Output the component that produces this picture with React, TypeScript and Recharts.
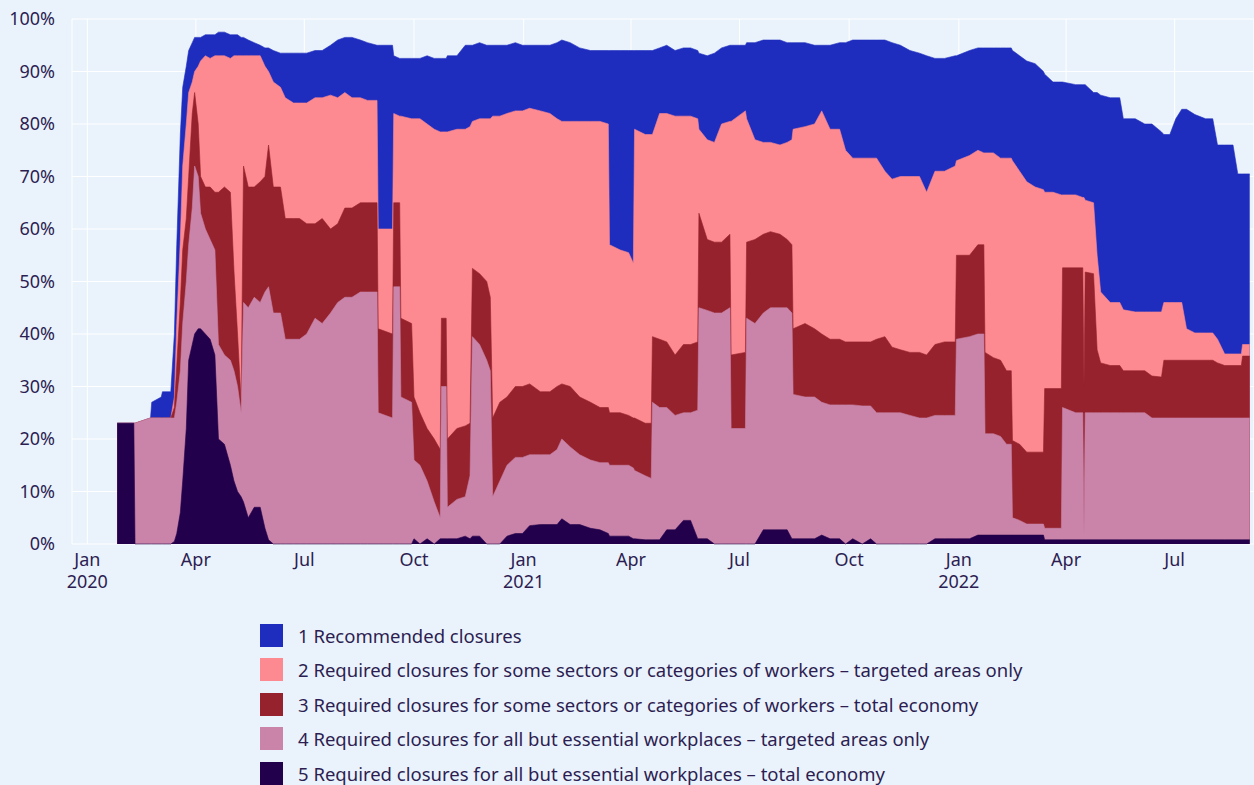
import React from 'react';
import { AreaChart, Area, XAxis, YAxis, CartesianGrid } from 'recharts';

// share of countries (%) at or above each workplace-closure level
const dates = [
  '2020-01-26', '2020-02-09', '2020-02-10', '2020-02-23', '2020-02-24', '2020-03-03', '2020-03-04', '2020-03-11',
  '2020-03-14', '2020-03-16', '2020-03-19', '2020-03-21', '2020-03-24', '2020-03-26', '2020-03-29', '2020-03-31',
  '2020-04-03', '2020-04-05', '2020-04-09', '2020-04-13', '2020-04-17', '2020-04-20', '2020-04-25', '2020-04-30',
  '2020-05-03', '2020-05-06', '2020-05-09', '2020-05-11', '2020-05-15', '2020-05-20', '2020-05-25', '2020-05-29',
  '2020-06-01', '2020-06-05', '2020-06-11', '2020-06-15', '2020-06-22', '2020-06-27', '2020-07-03', '2020-07-10',
  '2020-07-16', '2020-07-23', '2020-07-29', '2020-08-04', '2020-08-10', '2020-08-17', '2020-08-23', '2020-08-31',
  '2020-09-01', '2020-09-13', '2020-09-14', '2020-09-19', '2020-09-20', '2020-09-29', '2020-10-01', '2020-10-06',
  '2020-10-12', '2020-10-18', '2020-10-23', '2020-10-24', '2020-10-28', '2020-10-29', '2020-11-06', '2020-11-13',
  '2020-11-17', '2020-11-19', '2020-11-25', '2020-12-01', '2020-12-04', '2020-12-06', '2020-12-12', '2020-12-18',
  '2020-12-25', '2020-12-31', '2021-01-06', '2021-01-15', '2021-01-23', '2021-01-29', '2021-02-02', '2021-02-09',
  '2021-02-17', '2021-02-26', '2021-03-06', '2021-03-13', '2021-03-14', '2021-03-23', '2021-03-30', '2021-04-03',
  '2021-04-04', '2021-04-13', '2021-04-18', '2021-04-19', '2021-04-25', '2021-05-01', '2021-05-08', '2021-05-15',
  '2021-05-21', '2021-05-27', '2021-05-28', '2021-06-04', '2021-06-10', '2021-06-16', '2021-06-23', '2021-06-24',
  '2021-07-06', '2021-07-07', '2021-07-14', '2021-07-21', '2021-07-27', '2021-08-04', '2021-08-10', '2021-08-14',
  '2021-08-15', '2021-08-25', '2021-09-02', '2021-09-08', '2021-09-15', '2021-09-23', '2021-09-28', '2021-10-04',
  '2021-10-12', '2021-10-19', '2021-10-24', '2021-10-31', '2021-11-06', '2021-11-13', '2021-11-21', '2021-11-29',
  '2021-12-05', '2021-12-12', '2021-12-20', '2021-12-29', '2021-12-30', '2022-01-10', '2022-01-17', '2022-01-22',
  '2022-01-23', '2022-01-30', '2022-02-05', '2022-02-10', '2022-02-14', '2022-02-15', '2022-02-21', '2022-02-27',
  '2022-03-06', '2022-03-13', '2022-03-14', '2022-03-21', '2022-03-28', '2022-03-29', '2022-04-09', '2022-04-15',
  '2022-04-16', '2022-04-17', '2022-04-24', '2022-04-27', '2022-04-30', '2022-05-08', '2022-05-16', '2022-05-19',
  '2022-05-29', '2022-06-06', '2022-06-12', '2022-06-20', '2022-06-22', '2022-06-27', '2022-07-02', '2022-07-07',
  '2022-07-11', '2022-07-18', '2022-07-27', '2022-08-02', '2022-08-06', '2022-08-12', '2022-08-19', '2022-08-23',
  '2022-08-26', '2022-08-27', '2022-09-02',
];

// level 1 or higher (top of the blue band)
const atLeastLevel1 = [
  23, 23, 23, 24, 27, 28, 29, 29,
  40, 57, 78, 87, 91, 94, 95.5, 96.5,
  96.5, 96.5, 97, 97, 97, 97.5, 97.5, 97,
  97, 97, 96.5, 96.5, 96, 95.5, 95, 94.5,
  94.5, 94, 93.5, 93.5, 93.5, 93.5, 93.5, 94,
  94, 95, 96, 96.5, 96.5, 96, 95.5, 95,
  95, 95, 93, 92.5, 92.5, 92.5, 92.5, 92.5,
  93, 92.5, 92.5, 92.5, 92.5, 93, 93, 95,
  95, 95, 95.5, 95, 95, 95, 95, 95,
  95.5, 95, 95, 95, 95, 95.5, 96, 95.5,
  94.5, 94, 94, 94, 94, 94, 94, 94,
  94, 94, 94, 94, 94.5, 95, 94, 94.5,
  94.5, 94, 93.5, 93, 93.5, 94.5, 95, 95,
  95, 95.5, 95.5, 96, 96, 96, 95.5, 95.5,
  95.5, 95.5, 95, 95, 95, 95.5, 95.5, 96,
  96, 96, 96, 96, 95.5, 95, 94, 93.5,
  93, 92.5, 92.5, 93, 93, 94, 94.5, 94.5,
  94.5, 94.5, 94.5, 94.5, 94.5, 94, 93, 92,
  91.5, 90, 89.5, 88, 88, 88, 87.5, 87.5,
  87.5, 87.5, 86, 86, 85.5, 85, 85, 81,
  81, 80, 80, 78.5, 78, 78, 81, 82.8,
  82.8, 81.8, 81, 81, 76, 76, 76, 70.5,
  70.5, 70.5, 70.5,
];

// level 2 or higher (top of the salmon band)
const atLeastLevel2 = [
  23, 23, 23, 24, 24, 24, 24, 24,
  28, 42, 58, 72, 80, 86, 88, 90,
  91, 92, 93, 92.5, 93, 93, 93, 92.5,
  93, 93, 93, 93, 93, 93, 93, 91,
  90, 88, 87, 85, 84, 84, 84, 85,
  85, 85.5, 85, 86, 85, 85, 84.5, 84.5,
  60, 60, 82, 81.5, 81.5, 81, 81, 81,
  80, 79, 78.5, 78.5, 78.5, 78.5, 79, 79,
  79.5, 80.5, 81, 81, 81, 81.5, 81.5, 82,
  82.5, 82.5, 83, 82.5, 82, 81, 80.5, 80.5,
  80.5, 80.5, 80.5, 80, 57, 56, 55.5, 53.5,
  79, 78, 78, 78, 82, 82, 81.5, 81.5,
  81.5, 81, 79, 77, 76.5, 80, 80.5, 80.5,
  82.5, 81, 77, 76.5, 76.5, 76, 76.5, 77,
  79, 79.5, 80, 82.5, 79, 79, 75, 73.5,
  73.5, 73.5, 73.5, 71, 69.5, 70, 70, 70,
  67, 71, 71, 72, 73, 74, 75, 74.5,
  74.5, 74.5, 73.5, 73.5, 73.5, 73, 71, 69,
  68, 67.5, 67, 67, 66.5, 66.5, 66.5, 66,
  66, 65.5, 65, 55, 48, 46, 46, 44.6,
  44.2, 44.2, 44.2, 44.2, 46, 46, 46, 46,
  41, 40.2, 40.2, 40.2, 39, 36.2, 36.2, 36.2,
  36.2, 38, 38,
];

// level 3 or higher (top of the dark red band)
const atLeastLevel3 = [
  23, 23, 23, 24, 24, 24, 24, 24,
  26, 34, 46, 56, 62, 70, 82, 86,
  80, 70, 68, 68, 67, 67, 68, 67,
  52, 40, 27, 72, 68, 68, 69, 70,
  76, 68, 68, 62, 62, 62, 61, 61,
  62, 60, 61, 64, 64, 65, 65, 65,
  41, 40, 65, 65, 43, 42, 28, 25,
  22, 20, 18, 43, 43, 20, 22, 22.5,
  23, 52.5, 51.5, 50, 47, 24, 27, 28,
  30, 30, 30.5, 29, 29, 30, 30.5, 30,
  28, 27, 26, 26, 25, 25, 24.5, 24,
  24, 23, 23, 39.5, 39, 38.5, 36, 38,
  38, 38.5, 63, 58, 57.5, 57.5, 59, 36,
  36.5, 57.5, 58, 59, 59.5, 59, 58, 57,
  41, 42, 41, 40, 39, 39, 38.5, 38.5,
  38.5, 38.5, 39, 39.5, 37.5, 37, 36.5, 36.5,
  36, 38, 38.5, 38.5, 55, 55, 57, 57,
  36.5, 35.5, 35, 33, 33, 19.7, 19, 17.5,
  17.5, 17.5, 29.6, 29.6, 29.6, 52.6, 52.6, 52.6,
  30, 51.8, 51.5, 37, 34.5, 34, 34, 33,
  33, 33, 32, 31.8, 35, 35, 35, 35,
  35, 35, 35, 35, 34.5, 34, 34, 34,
  34, 35.8, 35.8,
];

// level 4 or higher (top of the mauve band)
const atLeastLevel4 = [
  23, 23, 23, 24, 24, 24, 24, 24,
  24, 27, 33, 42, 50, 57, 64, 72,
  70, 63, 60, 58, 56, 38, 36, 35,
  33, 30, 25, 46, 45, 47, 46, 48,
  49, 44, 44, 39, 39, 39, 40, 43,
  42, 44, 46, 47, 47, 48, 48, 48,
  25, 24, 49, 49, 28, 27, 16, 15,
  12, 8, 5, 30, 30, 7, 8.5, 9,
  13, 39.5, 38, 35, 33, 9, 12, 15,
  16.5, 16.5, 17, 17, 17, 18, 20, 18.5,
  17, 16, 15.5, 15.5, 15, 15, 15, 14.5,
  14, 13, 12.5, 27, 26, 26, 24.5, 25,
  25, 25.5, 45, 44.5, 44, 44, 45, 22,
  22, 43, 42, 44, 45, 45, 45, 44,
  28.5, 28, 28, 27, 26.5, 26.5, 26.5, 26.5,
  26.3, 26.3, 25, 25, 25, 25, 24.5, 24,
  24, 24.5, 24.5, 24.5, 39, 39.5, 40, 40,
  21, 21, 20.5, 19, 19, 5, 4.5, 3.8,
  3.8, 3.8, 3, 3, 3, 26, 25, 25,
  2, 25, 25, 25, 25, 25, 25, 25,
  25, 25, 24, 24, 24, 24, 24, 24,
  24, 24, 24, 24, 24, 24, 24, 24,
  24, 24, 24,
];

// level 5 (dark purple band)
const atLeastLevel5 = [
  23, 23, 0, 0, 0, 0, 0, 0,
  0.5, 2, 6, 12, 22, 35, 38, 40,
  41, 41, 40, 39, 36, 20, 19, 15,
  12, 10, 9, 8, 5, 7, 7, 3,
  0.8, 0, 0, 0, 0, 0, 0, 0,
  0, 0, 0, 0, 0, 0, 0, 0,
  0, 0, 0, 0, 0, 0, 1, 0,
  1, 0, 1, 1, 1, 1, 1, 1.5,
  1, 1.5, 1.5, 0, 0, 0, 0, 1.5,
  2, 2, 3.5, 3.7, 3.7, 3.7, 4.8, 3.7,
  3.7, 3, 2.7, 2, 1.5, 1.5, 1.5, 1,
  1, 0.8, 0.8, 0.8, 0.8, 2.7, 2.7, 4.5,
  4.5, 1, 1, 1, 0, 0, 0, 0,
  0, 0, 0, 2.7, 2.7, 2.7, 2.7, 1,
  1, 1, 1, 1.7, 1, 1, 0, 1,
  0, 1, 0, 0, 0, 0, 0, 0,
  0, 1, 1, 1, 1, 1, 1.7, 1.7,
  1.7, 1.7, 1.7, 1.7, 1.7, 1.7, 1.7, 1.7,
  1.7, 1.7, 0.8, 0.8, 0.8, 0.8, 0.8, 0.8,
  0.8, 0.8, 0.8, 0.8, 0.8, 0.8, 0.8, 0.8,
  0.8, 0.8, 0.8, 0.8, 0.8, 0.8, 0.8, 0.8,
  0.8, 0.8, 0.8, 0.8, 0.8, 0.8, 0.8, 0.8,
  0.8, 0.8, 0.8,
];

const seriesNames = [
  '1 Recommended closures',
  '2 Required closures for some sectors or categories of workers – targeted areas only',
  '3 Required closures for some sectors or categories of workers – total economy',
  '4 Required closures for all but essential workplaces – targeted areas only',
  '5 Required closures for all but essential workplaces – total economy',
];
const seriesColors = ['#1f2dbe', '#fd8a91', '#95222c', '#ca84a9', '#23004b'];

const tickDates = [
  '2020-01-01', '2020-04-01', '2020-07-01', '2020-10-01', '2021-01-01', '2021-04-01',
  '2021-07-01', '2021-10-01', '2022-01-01', '2022-04-01', '2022-07-01',
];
const tickLabels = [
  ['Jan', '2020'], ['Apr'], ['Jul'], ['Oct'], ['Jan', '2021'], ['Apr'],
  ['Jul'], ['Oct'], ['Jan', '2022'], ['Apr'], ['Jul'],
];
const yTicks = [0, 10, 20, 30, 40, 50, 60, 70, 80, 90, 100];

const ORIGIN = Date.UTC(2020, 0, 1);
const toDay = (iso: string) => {
  const [y, m, d] = iso.split('-').map(Number);
  return (Date.UTC(y, m - 1, d) - ORIGIN) / 86400000;
};

const levels = [atLeastLevel1, atLeastLevel2, atLeastLevel3, atLeastLevel4, atLeastLevel5];
const data = dates.map((d, i) => {
  const row: any = { day: toDay(d) };
  levels.forEach((arr, k) => {
    row[`l${k + 1}`] = arr[i];
  });
  return row;
});
const tickDays = tickDates.map(toDay);

const BG = '#eaf3fc';
const TEXT = '#2d1e52';
const FONT = '"Noto Sans", sans-serif';

const XTick = (props: any) => {
  const { x, y, payload } = props;
  const idx = tickDays.indexOf(payload.value);
  const lines = idx >= 0 ? tickLabels[idx] : [];
  return (
    <text x={x} y={y} textAnchor="middle" fill={TEXT} fontSize={18} fontFamily={FONT}>
      {lines.map((l, i) => (
        <tspan key={i} x={x} dy={22}>
          {l}
        </tspan>
      ))}
    </text>
  );
};

export default function App() {
  return (
    <div
      style={{
        position: 'absolute',
        left: 0,
        top: 0,
        width: 1254,
        height: 785,
        background: BG,
        fontFamily: FONT,
        overflow: 'hidden',
      }}
    >
      <AreaChart width={1254} height={600} data={data} margin={{ top: 19, right: 0, left: 0, bottom: 0 }}>
        <CartesianGrid stroke="#ffffff" strokeWidth={1} />
        <XAxis
          dataKey="day"
          type="number"
          domain={[-12.87, 978.6]}
          allowDataOverflow
          ticks={tickDays}
          tick={<XTick />}
          axisLine={false}
          tickLine={false}
          tickSize={0}
          tickMargin={0}
          height={56}
          interval={0}
        />
        <YAxis
          type="number"
          domain={[0, 100]}
          ticks={yTicks}
          tickFormatter={(v: number) => `${v}%`}
          axisLine={false}
          tickLine={false}
          tickSize={0}
          tickMargin={17}
          width={72}
          tick={{ fill: TEXT, fontSize: 18, fontFamily: FONT }}
        />
        {levels.map((_, k) => (
          <Area
            key={k}
            type="linear"
            dataKey={`l${k + 1}`}
            name={seriesNames[k]}
            fill={seriesColors[k]}
            fillOpacity={1}
            stroke={seriesColors[k]}
            strokeWidth={0.6}
            dot={false}
            activeDot={false}
            isAnimationActive={false}
          />
        ))}
      </AreaChart>
      <div style={{ position: 'absolute', left: 260, top: 624 }}>
        {seriesNames.map((name, k) => (
          <div key={k} style={{ display: 'flex', alignItems: 'flex-start', height: 34.4 }}>
            <div style={{ width: 23, height: 23, background: seriesColors[k], marginRight: 15 }} />
            <div style={{ color: TEXT, fontSize: 18.5, lineHeight: '23px', whiteSpace: 'nowrap' }}>
              {name}
            </div>
          </div>
        ))}
      </div>
    </div>
  );
}
